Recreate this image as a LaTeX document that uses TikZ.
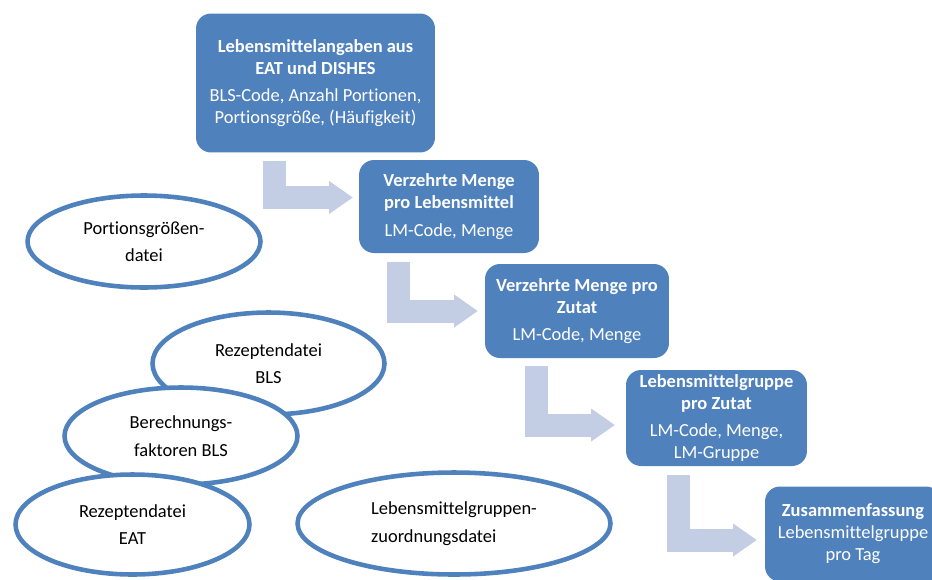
\documentclass[tikz,border=0pt]{standalone}
\usepackage{fontspec}
\setmainfont{Carlito}[Ligatures=NoCommon]
\usetikzlibrary{arrows.meta,calc,shapes.geometric}

\definecolor{boxblue}{RGB}{79,129,189}
\definecolor{flowgray}{RGB}{195,205,227}

\begin{document}
\begin{tikzpicture}[x=0.02cm,y=-0.02cm,
	box/.style={rectangle,rounded corners=0.3cm,fill=boxblue,text=white,align=center,
		inner sep=0pt,font=\fontsize{10.5}{12.6}\selectfont},
	datei/.style={ellipse,draw=boxblue,line width=2.6pt,fill=white,inner sep=0pt,
		align=center,font=\fontsize{10.5}{15.6}\selectfont},
	flow/.style={draw=flowgray,line width=0.46cm,
		-{Triangle[length=0.47cm,width=0.66cm,line width=0pt]}}]
			\clip (0,0) rectangle (932,579);

			\node (lmangaben) [box,minimum width=4.78cm,minimum height=2.78cm] at (315.5,83)
				{\textbf{Lebensmittelangaben aus}\\ \textbf{EAT und DISHES}\\[3pt] BLS-Code, Anzahl Portionen,\\ Portionsgröße, (Häufigkeit)};
			\node (menge) [box,minimum width=3.6cm,minimum height=1.86cm] at (449,206.5)
				{\textbf{Verzehrte Menge}\\ \textbf{pro Lebensmittel}\\[3pt] LM-Code, Menge};
			\node (zutat) [box,minimum width=3.68cm,minimum height=1.88cm] at (577,311)
				{\textbf{Verzehrte Menge pro}\\ \textbf{Zutat}\\[3pt] LM-Code, Menge};
			\node (gruppe) [box,minimum width=3.62cm,minimum height=1.92cm] at (716.5,418)
				{\textbf{Lebensmittelgruppe}\\ \textbf{pro Zutat}\\[3pt] LM-Code, Menge,\\ LM-Gruppe};
			\node (summe) [box,minimum width=3.52cm,minimum height=1.9cm] at (853,534)
				{\textbf{Zusammenfassung}\\ Lebensmittelgruppe\\ pro Tag};

			\draw [flow] ($(lmangaben.south west)+(79,8)$) |- ($(menge.west)+(-6,-9)$);
			\draw [flow] ($(menge.south west)+(39.5,9)$) |- ($(zutat.west)+(-7,0)$);
			\draw [flow] ($(zutat.south west)+(51.5,8)$) |- ($(gruppe.west)+(-11,7)$);
			\draw [flow] ($(gruppe.south west)+(52.5,9)$) |- ($(summe.west)+(-8,6)$);

			\node (portion) [datei,minimum width=4.66cm,minimum height=1.84cm] at (144,241.5)
				{Portionsgrößen-\\ datei};
			\node (rezbls) [datei,minimum width=4.64cm,minimum height=2.04cm] at (268.5,363.5)
				{Rezeptendatei\\ BLS};
			\node (faktor) [datei,minimum width=4.66cm,minimum height=1.94cm] at (181,436)
				{Berechnungs-\\ faktoren BLS};
			\node (rezeat) [datei,minimum width=4.68cm,minimum height=2.0cm] at (132.5,524.5)
				{Rezeptendatei\\ EAT};
			\node (zuord) [datei,align=left,minimum width=6.26cm,minimum height=2.04cm] at (454,523.5)
				{Lebensmittelgruppen-\\ zuordnungsdatei};
		\end{tikzpicture}
\end{document}
